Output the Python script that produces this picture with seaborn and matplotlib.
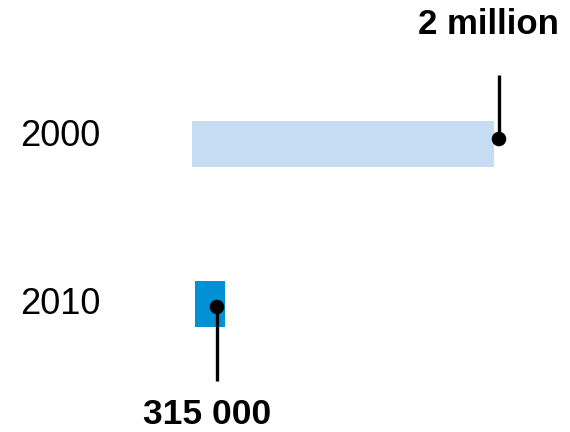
import matplotlib
matplotlib.use("Agg")
import matplotlib.pyplot as plt
import seaborn as sns
import pandas as pd

# Data (in the chart's own horizontal units)
years = ["2000", "2010"]
value_labels = ["2 million", "315 000"]
bar_start = [192, 195]
bar_end = [494, 225]
marker_x = [499, 217]
bar_colors = ["#c6dcf2", "#0091d5"]

sns.set_theme(style="white")
plt.rcParams["font.family"] = ["Liberation Sans", "DejaVu Sans"]

fig = plt.figure(figsize=(5.7, 4.32), dpi=100)
ax = fig.add_axes([0, 0, 1, 1])
ax.set_xlim(0, 570)
ax.set_ylim(432, 0)

row_y = [144, 304]
bar_h = 46

df = pd.DataFrame({"year": years, "start": bar_start, "end": bar_end,
                   "mx": marker_x, "y": row_y, "label": value_labels})

for i, r in df.iterrows():
    ax.barh(r["y"], r["end"] - r["start"], left=r["start"], height=bar_h,
            color=bar_colors[i], edgecolor="none", zorder=1)

# dots at the bar values
sns.scatterplot(data=df.assign(my=[139, 307]), x="mx", y="my", ax=ax,
                color="black", s=110, edgecolor="none", zorder=4, legend=False)

# leader lines
ax.plot([marker_x[0], marker_x[0]], [75, 139], color="black", lw=2.4,
        solid_capstyle="butt", zorder=3)
ax.plot([marker_x[1], marker_x[1]], [307, 381], color="black", lw=2.4,
        solid_capstyle="butt", zorder=3)

# value labels
ax.text(488.5, 25, value_labels[0], ha="center", va="center", fontsize=25,
        fontweight="bold", color="black")
ax.text(207.5, 415, value_labels[1], ha="center", va="center", fontsize=25.5,
        fontweight="bold", color="black")

# category labels
for yv, yl in zip([137, 304], years):
    ax.text(20, yv, yl, ha="left", va="center", fontsize=26, color="black")

ax.set_axis_off()
fig.savefig("out.png", dpi=100)
